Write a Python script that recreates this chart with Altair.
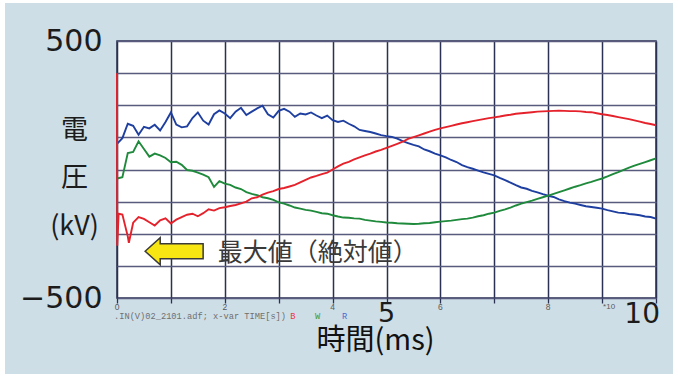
import altair as alt
import pandas as pd

# Sampling instants (ms) for the three phase voltages
TIME_MS = [i / 10 for i in range(101)]

# Phase voltages in kV at TIME_MS
BLUE_KV = [100, 122, 178, 170, 135, 166, 160, 174, 152, 185,
           222, 175, 164, 168, 200, 222, 190, 175, 215, 230,
           218, 200, 225, 240, 212, 225, 238, 248, 215, 202,
           228, 236, 225, 205, 218, 214, 222, 210, 200, 210,
           192, 185, 190, 178, 168, 154, 150, 146, 140, 134,
           130, 127, 120, 110, 103, 96, 90, 78, 71, 62,
           55, 47, 37, 29, 17, 9, 3, -4, -11, -17,
           -23, -33, -41, -51, -61, -70, -75, -83, -89, -96,
           -102, -107, -116, -123, -129, -133, -138, -143, -146, -149,
           -152, -158, -163, -168, -169, -173, -175, -178, -183, -185, -191]

GREEN_KV = [-35, -30, 64, 68, 110, 80, 50, 62, 55, 45,
            28, 30, 18, -2, -5, -12, -20, -30, -68, -45,
            -55, -60, -70, -76, -88, -95, -100, -108, -112, -118,
            -128, -133, -140, -148, -152, -157, -160, -165, -170, -172,
            -178, -183, -187, -188, -190, -191, -196, -199, -202, -204,
            -206, -207, -209, -210, -211, -212, -211, -209, -208, -205,
            -203, -201, -199, -196, -193, -191, -187, -182, -178, -172,
            -168, -161, -155, -148, -140, -133, -127, -121, -114, -108,
            -102, -95, -88, -81, -74, -67, -61, -54, -48, -41,
            -35, -27, -18, -10, -1, 7, 15, 22, 29, 36, 43]

RED_KV = [375, -175, -260, -207, -185, -192, -205, -218, -198, -190,
          -210, -195, -185, -176, -172, -182, -170, -155, -160, -150,
          -147, -142, -138, -132, -125, -112, -108, -98, -90, -84,
          -76, -72, -66, -60, -50, -40, -31, -25, -18, -12,
          0, 12, 23, 30, 39, 47, 55, 62, 70, 76,
          84, 92, 100, 108, 119, 126, 133, 140, 147, 154,
          160, 165, 170, 175, 180, 184, 188, 192, 196, 200,
          203, 206, 210, 213, 217, 219, 221, 223, 225, 226,
          227, 228, 229, 228, 227, 227, 226, 224, 223, 219,
          215, 212, 208, 204, 200, 196, 191, 186, 181, 177, 172]

# Switching transient on the R phase just after t = 0
RED_EXTRA_T = [0.005, 0.03, 0.22]
RED_EXTRA_KV = [-297, -172, -285]

PHASES = ["B", "W", "R"]
PHASE_COLORS = ["#1e3fa0", "#1f8a3c", "#e5222b"]

# Axis tick positions, small tick labels and the few labels drawn large
X_TICKS = list(range(11))
Y_TICKS = [-500, -375, -250, -125, 0, 125, 250, 375, 500]
SMALL_X_LABELS = ["0", "2", "4", "6", "8"]
SMALL_X_POS = [0, 2, 4, 6, 8]
BIG_X_LABELS = ["5", "10"]
BIG_X_POS = [5, 10]

# Annotation: arrow and caption
ARROW_T, ARROW_KV = 1.06, -318
CAPTION = "最大値（絶対値）"
CAPTION_T, CAPTION_KV = 1.87, -324

# Footer line of the recorder printout
FOOTER_TEXT = [".IN(V)02_2101.adf; x-var TIME[s])", "B", "W", "R"]
FOOTER_T = [0.0, 3.27, 3.73, 4.23]
FOOTER_COLORS = ["#6f6f6f", "#ee3344", "#3a9a3a", "#4a6ad0"]

rows = []
for name, vals in (("B", BLUE_KV), ("W", GREEN_KV)):
    for t, v in zip(TIME_MS, vals):
        rows.append({"t": t, "v": v, "phase": name})
red_pts = sorted(list(zip(TIME_MS, RED_KV)) + list(zip(RED_EXTRA_T, RED_EXTRA_KV)))
for t, v in red_pts:
    rows.append({"t": t, "v": v, "phase": "R"})
df = pd.DataFrame(rows)
df["order"] = range(len(df))

GRID_X = "#2b3152"
GRID_Y = "#585a7e"
BIG_FONT = "DejaVu Sans"
SMALL_GRAY = "#5a5a5a"

x_enc = alt.X(
    "t:Q",
    scale=alt.Scale(domain=[0, 10], nice=False),
    axis=alt.Axis(
        values=X_TICKS, grid=True, gridColor=GRID_X, gridWidth=1.5,
        domain=False, ticks=True, tickSize=5, tickColor=GRID_X, tickWidth=1.3,
        labels=False,
        title="時間(ms)", titleFont="Noto Sans CJK JP", titleFontSize=29,
        titleFontWeight="normal", titleColor="#111111",
        titleX=258, titleY=42, titleBaseline="middle", titleAlign="center",
    ),
)
y_enc = alt.Y(
    "v:Q",
    scale=alt.Scale(domain=[-500, 500], nice=False),
    axis=alt.Axis(
        values=Y_TICKS, grid=True, gridColor=GRID_Y, gridWidth=1.5,
        domain=False, ticks=False,
        labelExpr="datum.value == 500 ? '500' : datum.value == -500 ? '−500' : ''",
        labelFontSize=30, labelColor="#1c1c1c", labelFont=BIG_FONT,
        labelPadding=15, labelOverlap=False, labelFlush=False,
        title=["電", "圧", "(kV)"], titleAngle=0, titleX=-43, titleY=89,
        titleAlign="center", titleBaseline="middle", titleLineHeight=48,
        titleFont="Noto Sans CJK JP", titleFontSize=27, titleFontWeight="normal",
        titleColor="#1c1c1c",
    ),
)

lines = alt.Chart(df).mark_line(strokeWidth=1.9).encode(
    x=x_enc,
    y=y_enc,
    color=alt.Color("phase:N", scale=alt.Scale(domain=PHASES, range=PHASE_COLORS), legend=None),
    order="order:Q",
)

ARROW_PATH = ("M-1,0 L-0.48,-0.466 L-0.48,-0.26 L1,-0.26 "
              "L1,0.26 L-0.48,0.26 L-0.48,0.466 Z")
arrow = alt.Chart(pd.DataFrame({"t": [ARROW_T], "v": [ARROW_KV]})).mark_point(
    shape=ARROW_PATH, size=58 * 58, filled=True, fill="#f7e612",
    stroke="#3a3a3a", strokeWidth=1.5, opacity=1, fillOpacity=1,
).encode(x=x_enc, y=y_enc)

caption = alt.Chart(pd.DataFrame({"t": [CAPTION_T], "v": [CAPTION_KV], "s": [CAPTION]})).mark_text(
    font="Noto Sans CJK JP", fontSize=25, color="#3a3a3a", align="left", baseline="middle",
).encode(x=x_enc, y=y_enc, text="s:N")

small_labels = alt.Chart(pd.DataFrame({
    "t": SMALL_X_POS, "v": [-500] * len(SMALL_X_POS), "s": SMALL_X_LABELS,
})).mark_text(
    font="Liberation Sans", fontSize=8.5, color=SMALL_GRAY, align="center",
    baseline="top", dy=5,
).encode(x=x_enc, y=y_enc, text="s:N")

big_5 = alt.Chart(pd.DataFrame({"t": [BIG_X_POS[0]], "v": [-500], "s": [BIG_X_LABELS[0]]})).mark_text(
    font=BIG_FONT, fontSize=27, color="#1c1c1c", align="center",
    baseline="alphabetic", dy=24,
).encode(x=x_enc, y=y_enc, text="s:N")

big_10 = alt.Chart(pd.DataFrame({"t": [BIG_X_POS[1]], "v": [-500], "s": [BIG_X_LABELS[1]]})).mark_text(
    font=BIG_FONT, fontSize=28, color="#1c1c1c", align="right",
    baseline="alphabetic", dy=25, dx=4,
).encode(x=x_enc, y=y_enc, text="s:N")

scale_note = alt.Chart(pd.DataFrame({"t": [9], "v": [-500], "s": ["*10"]})).mark_text(
    font="Liberation Sans", fontSize=8, color=SMALL_GRAY, align="left",
    baseline="top", dy=5, dx=1,
).encode(x=x_enc, y=y_enc, text="s:N")

footer = alt.Chart(pd.DataFrame({
    "t": FOOTER_T, "v": [-500] * 4, "s": FOOTER_TEXT, "c": FOOTER_COLORS,
})).mark_text(
    font="Liberation Mono", fontSize=8.7, align="left", baseline="alphabetic", dy=21, dx=-3,
).encode(x=x_enc, y=y_enc, text="s:N", color=alt.Color("c:N", scale=None))

# White margin around the light panel
frame = alt.Chart(pd.DataFrame({"k": [0]})).mark_rect(
    filled=False, stroke="white", strokeWidth=8,
).encode(x=alt.value(-116), x2=alt.value(560), y=alt.value(-42), y2=alt.value(337))

chart = alt.layer(
    lines, arrow, caption, small_labels, big_5, big_10, scale_note, footer, frame,
).properties(
    width=539, height=257,
    padding={"left": 117, "top": 41, "right": 22, "bottom": 78},
    autosize=alt.AutoSizeParams(type="none"),
    background="#cedee7",
).configure_view(
    fill="white", stroke=GRID_X, strokeWidth=1.5,
)

chart.save("out.html", embed_options={"renderer": "svg", "actions": False})
